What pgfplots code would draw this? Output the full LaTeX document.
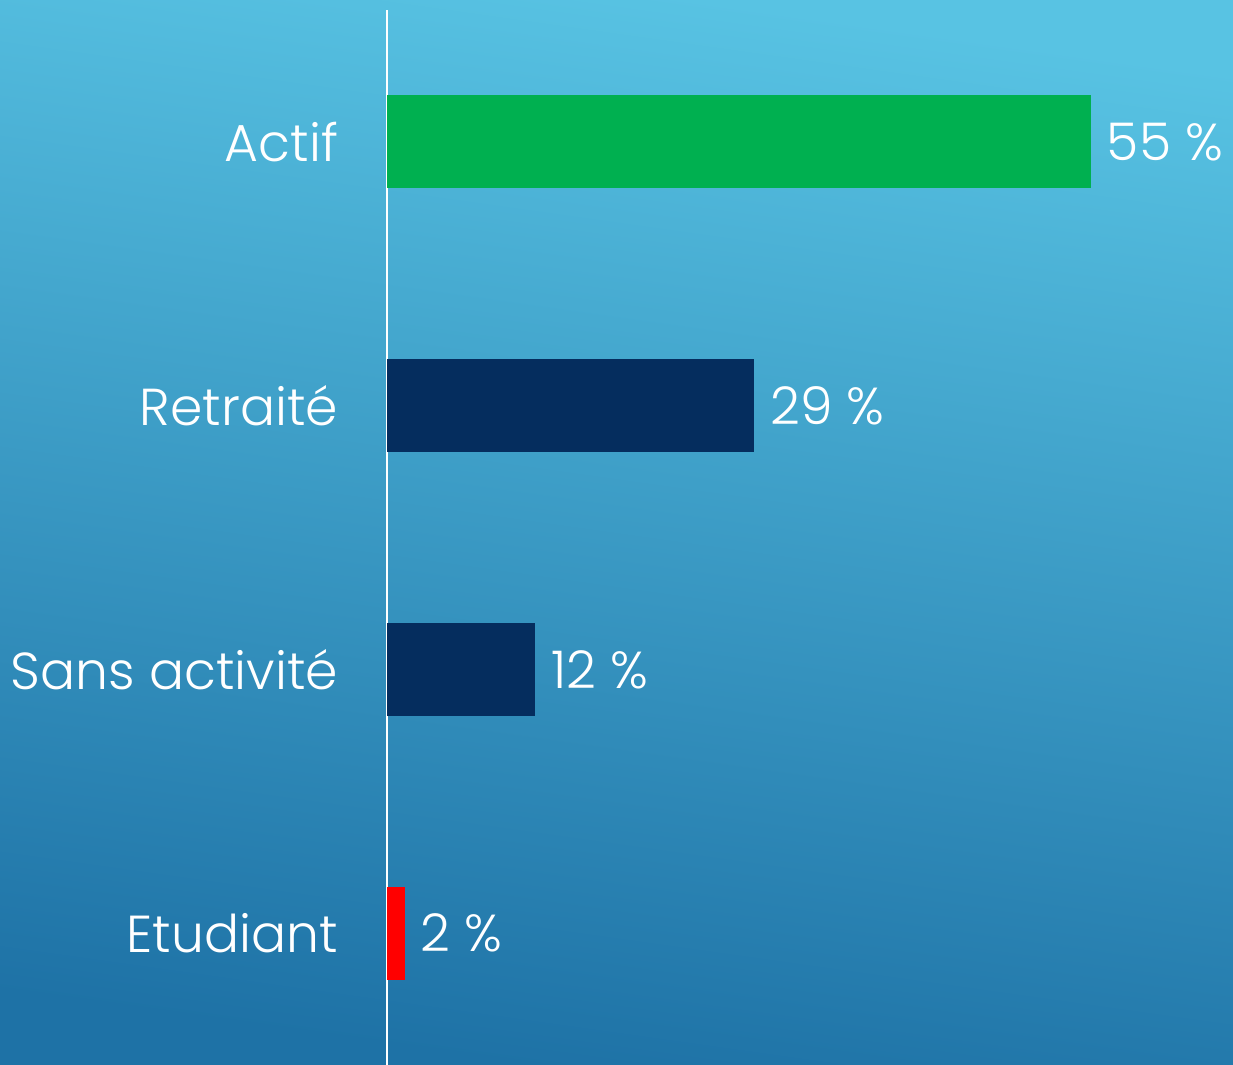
\documentclass[border=0pt]{standalone}
\usepackage{fontspec}
\setmainfont{Poppins Light}
\usepackage{pgfplots}
\pgfplotsset{compat=1.18}
\usetikzlibrary{backgrounds,calc}
\definecolor{bgTop}{RGB}{88,195,227}
\definecolor{bgBot}{RGB}{30,114,166}
\definecolor{cGreen}{RGB}{0,176,80}
\definecolor{cNavy}{RGB}{5,45,94}
\definecolor{cRed}{RGB}{255,0,0}
\newcommand{\lbl}{\fontsize{26}{26}\selectfont}
\begin{document}
\begin{tikzpicture}
\begin{axis}[
  scale only axis, width=423pt, height=527.5pt,
  xmin=0, xmax=66.1, ymin=-0.5, ymax=3.5, y dir=reverse,
  xbar, bar width=46.5pt, bar shift=0pt,
  hide x axis, axis y line*=left,
  axis line style={white, line width=1pt},
  ytick={0,1,2,3},
  yticklabels={Actif,Retraité,Sans activité,Etudiant},
  major tick length=0pt,
  yticklabel style={white, font=\lbl, xshift=-21pt},
  point meta=explicit symbolic,
  nodes near coords,
  nodes near coords style={white, font=\lbl, anchor=west, xshift=4.5pt},
  clip=false,
]
\addplot[fill=cGreen, draw=none] coordinates {(55,0) [55~\%]};
\addplot[fill=cNavy, draw=none] coordinates {(28.7,1) [29~\%]};
\addplot[fill=cNavy, draw=none] coordinates {(11.6,2) [12~\%]};
\addplot[fill=cRed, draw=none] coordinates {(1.4,3) [2~\%]};
\end{axis}
\begin{scope}[on background layer]
\shade[top color=bgTop, bottom color=bgBot, shading angle=-8]
  ($(current axis.south west)+(-193.5pt,0)$) rectangle ($(current axis.north east)+(0,5pt)$);
\end{scope}
\pgfresetboundingbox
\path ($(current axis.south west)+(-193.5pt,0)$) rectangle ($(current axis.north east)+(0,5pt)$);
\end{tikzpicture}
\end{document}
